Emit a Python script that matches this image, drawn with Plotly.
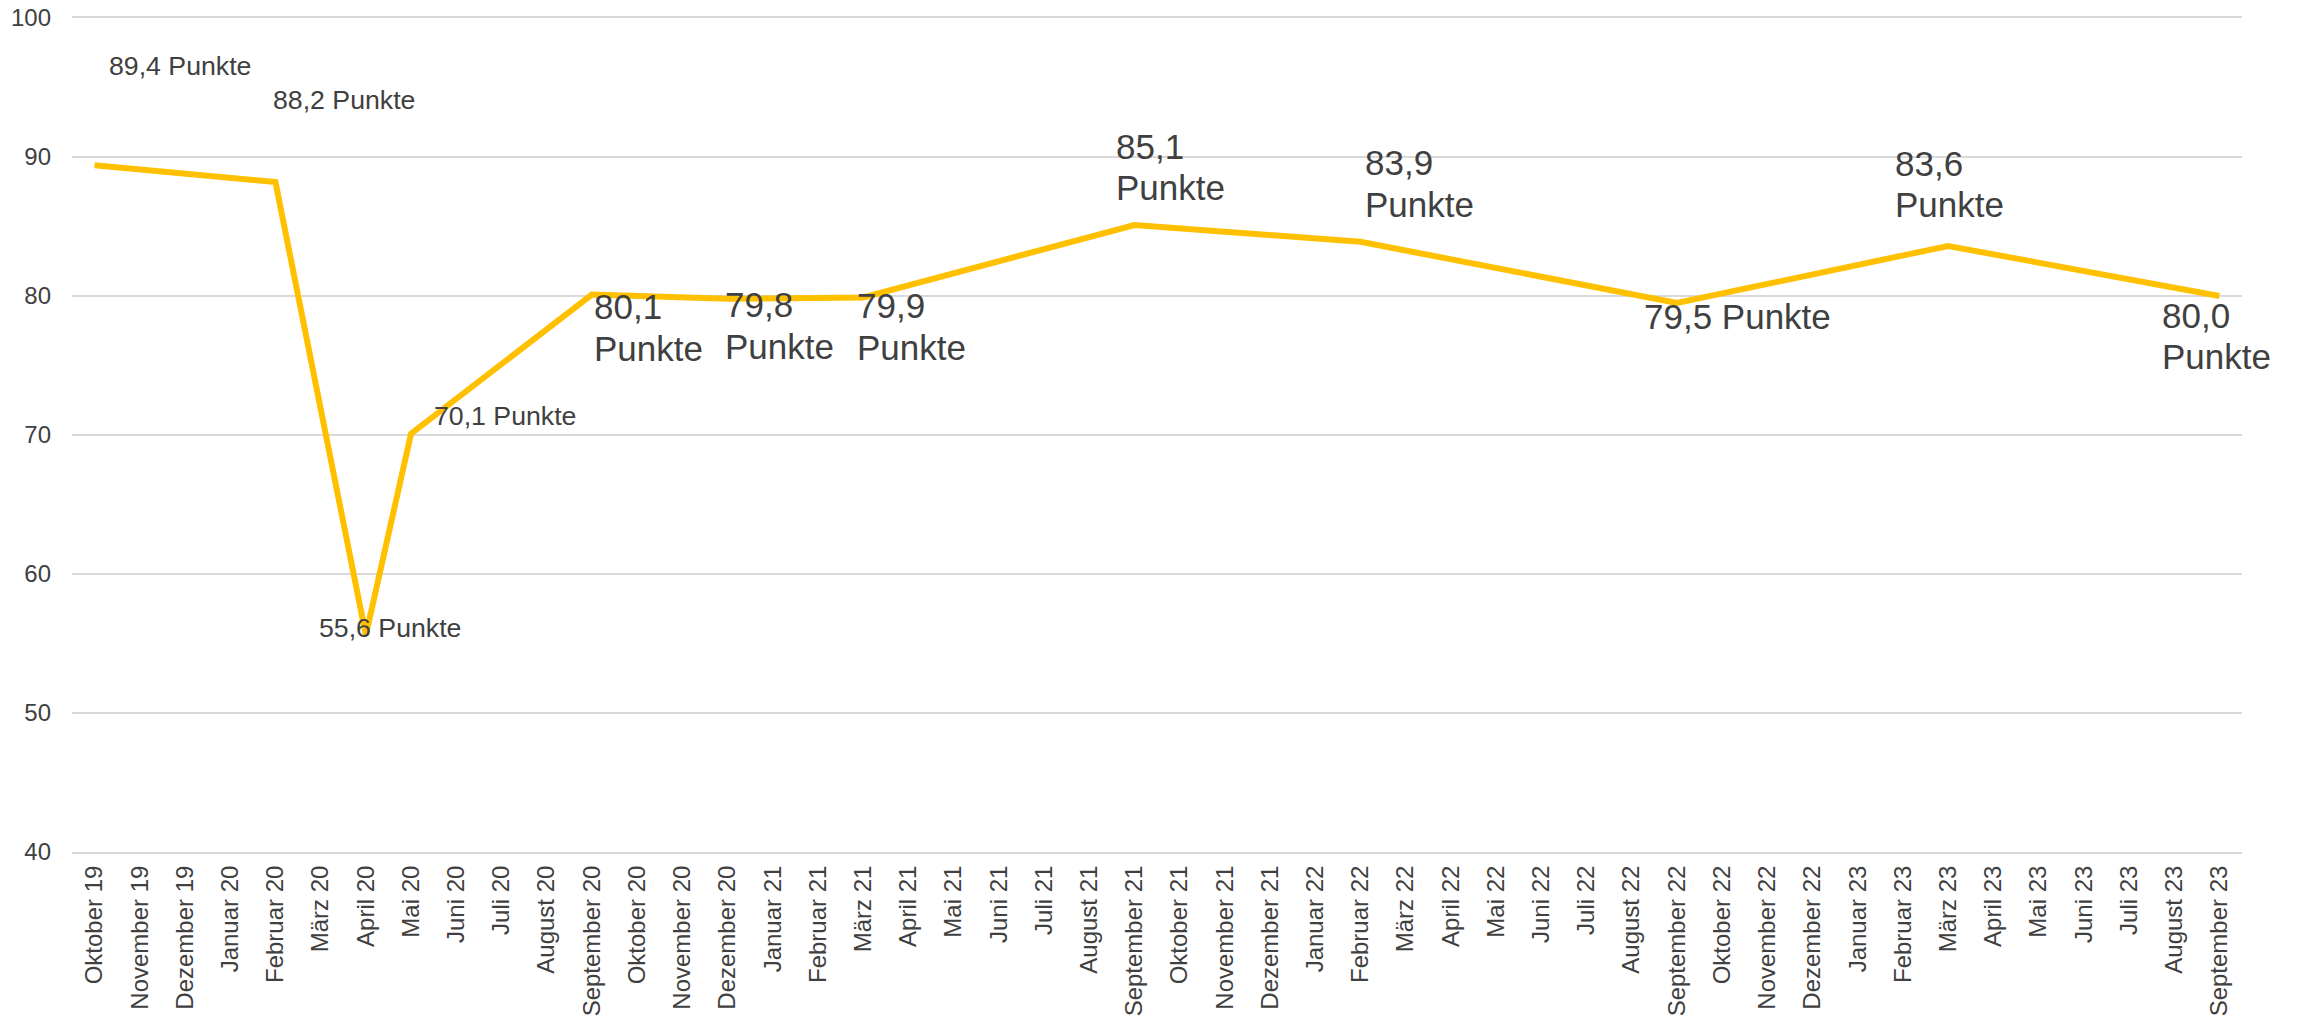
import plotly.graph_objects as go

# Monthly axis categories
months = [
    "Oktober 19", "November 19", "Dezember 19",
    "Januar 20", "Februar 20", "März 20", "April 20", "Mai 20", "Juni 20",
    "Juli 20", "August 20", "September 20", "Oktober 20", "November 20", "Dezember 20",
    "Januar 21", "Februar 21", "März 21", "April 21", "Mai 21", "Juni 21",
    "Juli 21", "August 21", "September 21", "Oktober 21", "November 21", "Dezember 21",
    "Januar 22", "Februar 22", "März 22", "April 22", "Mai 22", "Juni 22",
    "Juli 22", "August 22", "September 22", "Oktober 22", "November 22", "Dezember 22",
    "Januar 23", "Februar 23", "März 23", "April 23", "Mai 23", "Juni 23",
    "Juli 23", "August 23", "September 23",
]

# Survey months and index values
survey_months = [
    "Oktober 19", "Februar 20", "April 20", "Mai 20", "September 20", "Dezember 20",
    "März 21", "September 21", "Februar 22", "September 22", "März 23", "September 23",
]
index_values = [89.4, 88.2, 55.6, 70.1, 80.1, 79.8, 79.9, 85.1, 83.9, 79.5, 83.6, 80.0]

y_ticks = [40, 50, 60, 70, 80, 90, 100]

# Label placement: pixel offset from the point (dx to left edge, dy up), size, wrapped
label_dx = [12, -4, -49, 21, 0, -5, -8, -20, 3, -35, -55, -59]
label_dy = [99, 82, 7, 18, -33, -27, -29, 58, 58, -14, 62, -40]
label_big = [False, False, False, False, True, True, True, True, True, True, True, True]
label_wrap = [False, False, False, False, True, True, True, True, True, False, True, True]
LINE_PITCH = 41.7  # px between the two lines of a wrapped label

TEXT = "#404040"
GRID = "#D9D9D9"
FONT = "Liberation Sans, Arial, sans-serif"

fig = go.Figure()
fig.add_trace(go.Scatter(
    x=survey_months,
    y=index_values,
    mode="lines",
    line=dict(color="#FFC000", width=6),
    hoverinfo="x+y",
))

for m, v, dx, dy, big, wrap in zip(survey_months, index_values, label_dx, label_dy,
                                   label_big, label_wrap):
    num = f"{v:.1f}".replace(".", ",")
    font = dict(family=FONT, size=35 if big else 26.7, color=TEXT)
    if wrap:
        lines = [(num, dy + LINE_PITCH / 2), ("Punkte", dy - LINE_PITCH / 2)]
    else:
        lines = [(num + " Punkte", dy)]
    for text, shift in lines:
        fig.add_annotation(
            x=m, y=v, text=text, showarrow=False,
            xanchor="left", yanchor="middle", align="left",
            xshift=dx, yshift=shift, font=font,
        )

fig.update_layout(
    width=2300, height=1019,
    margin=dict(l=72, r=58, t=18, b=167, autoexpand=False),
    paper_bgcolor="white", plot_bgcolor="white",
    showlegend=False,
    font=dict(family=FONT, color=TEXT),
)
fig.update_xaxes(
    type="category", categoryorder="array", categoryarray=months,
    tickmode="array", tickvals=months, ticktext=months,
    range=[-0.5, len(months) - 0.5],
    tickangle=-90, tickfont=dict(size=24, color=TEXT),
    showgrid=False, ticks="", ticklabelstandoff=2,
    showline=True, mirror=True, linecolor=GRID, linewidth=2,
    zeroline=False, automargin=False,
)
fig.update_yaxes(
    range=[40, 100], tickvals=y_ticks,
    tickfont=dict(size=24, color=TEXT),
    showgrid=True, gridcolor=GRID, gridwidth=2,
    ticks="", ticklabelstandoff=20,
    showline=False, zeroline=False, automargin=False,
)

fig.write_html("out.html")
